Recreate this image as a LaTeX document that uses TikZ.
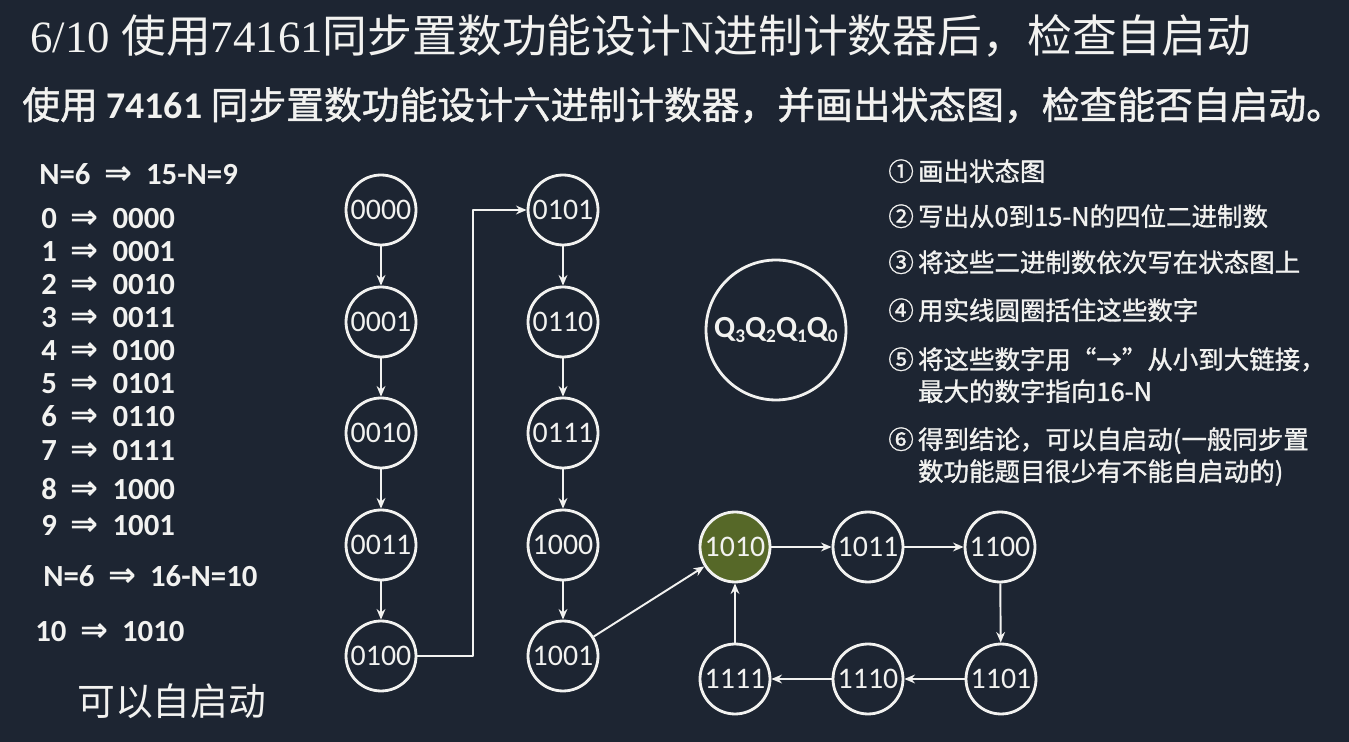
\documentclass[tikz,border=0pt]{standalone}
\usepackage{fontspec}
\setmainfont{Carlito}
\newfontfamily\cjk{Noto Sans CJK SC}
\newfontfamily\cjkb[FakeBold=1.2]{Noto Sans CJK SC}
\newfontfamily\titlelatin{Liberation Serif}
\newfontfamily\symb{DejaVu Sans}
\usetikzlibrary{arrows.meta,positioning}
\definecolor{board}{RGB}{29,37,50}
\definecolor{chalk}{RGB}{242,242,240}
\definecolor{olive}{RGB}{86,104,40}
\newcommand\imp{\hspace{0.45em}{\symb\fontsize{19}{19}\selectfont ⇒}\hspace{0.45em}}
\newcommand\qsub[1]{Q\raisebox{-0.4ex}{\fontsize{11}{11}\selectfont #1}}
\tikzset{
  state/.style={circle, draw=chalk, line width=1.6pt, minimum size=1.4cm, inner sep=0pt,
    text=chalk, font=\fontsize{17}{17}\selectfont},
  start/.style={state, fill=olive},
  arr/.style={->, draw=chalk, line width=1.1pt},
  listline/.style={anchor=west, text=chalk, inner sep=0pt, font=\bfseries\fontsize{17.5}{17.5}\selectfont},
  stepline/.style={anchor=north west, text=chalk, inner sep=0pt, align=left,
    font=\cjkb\fontsize{14.5}{18.2}\selectfont}
}
\begin{document}
\begin{tikzpicture}[x=0.02cm, y=-0.02cm, >={Stealth[length=6pt,width=5pt]}, line join=round]
  \fill[board] (0,0) rectangle (1349,742);
  \useasboundingbox (0,0) rectangle (1349,742);

  % headings
  \node[anchor=west, text=chalk, inner sep=0pt, font=\fontsize{25.5}{25.5}\selectfont] (title) at (30,36)
    {{\titlelatin 6/10 }{\cjk 使用}{\titlelatin 74161}{\cjk 同步置数功能设计}{\titlelatin N}{\cjk 进制计数器后，检查自启动}};
  \node[anchor=west, text=chalk, inner sep=0pt, font=\fontsize{21.5}{21.5}\selectfont] (task) at (22,105)
    {{\cjkb 使用} {\bfseries 74161} {\cjkb 同步置数功能设计六进制计数器，并画出状态图，检查能否自启动。}};

  % left column
  \node[listline] (n15) at (39,174) {N=6\imp 15-N=9};
  \foreach \n/\b/\y in {0/0000/219, 1/0001/252, 2/0010/285, 3/0011/318, 4/0100/351,
                        5/0101/384, 6/0110/416, 7/0111/451, 8/1000/489, 9/1001/526}
    \node[listline] (d\n) at (41,\y) {\n\imp\b};
  \node[listline] (n16) at (43,576) {N=6\imp 16-N=10};
  \node[listline] (d10) at (35,632) {10\imp 1010};
  \node[anchor=west, text=chalk, inner sep=0pt, font=\cjk\fontsize{21.5}{21.5}\selectfont] (ok) at (77,701) {可以自启动};

  % states
  \foreach \i/\b/\y in {0/0000/210, 1/0001/322, 2/0010/433, 3/0011/545, 4/0100/656}
    \node[state] (s\i) at (381,\y) {\b};
  \foreach \i/\b/\y in {5/0101/210, 6/0110/322, 7/0111/433, 8/1000/545, 9/1001/656}
    \node[state] (s\i) at (563,\y) {\b};
  \node[start] (s10) at (735,547) {1010};
  \node[state] (s11) at (868,547) {1011};
  \node[state] (s12) at (1000,547) {1100};
  \node[state] (s13) at (1001,679) {1101};
  \node[state] (s14) at (868,679) {1110};
  \node[state] (s15) at (735,679) {1111};

  \node[circle, draw=chalk, line width=1.6pt, minimum size=2.8cm, inner sep=0pt, text=chalk,
    font=\bfseries\fontsize{17.5}{17.5}\selectfont] (key) at (776,330) {\qsub{3}\qsub{2}\qsub{1}\qsub{0}};

  % transitions
  \foreach \a/\b in {0/1, 1/2, 2/3, 3/4, 5/6, 6/7, 7/8, 8/9, 9/10,
                     10/11, 11/12, 12/13, 13/14, 14/15, 15/10}
    \draw[arr] (s\a) -- (s\b);
  \draw[arr] (s4.east) -- ++(56,0) |- (s5.west);

  % steps
  \node[stepline] (st1) at (888,159) {①\,画出状态图};
  \node[stepline] (st2) at (888,204) {②\,写出从0到15-N的四位二进制数};
  \node[stepline] (st3) at (888,250) {③\,将这些二进制数依次写在状态图上};
  \node[stepline] (st4) at (888,298) {④\,用实线圆圈括住这些数字};
  \node[stepline] (st5) at (888,347) {⑤\,将这些数字用“→”从小到大链接，\\\hphantom{⑤\,}最大的数字指向16-N};
  \node[stepline] (st6) at (888,427) {⑥\,得到结论，可以自启动(一般同步置\\\hphantom{⑥\,}数功能题目很少有不能自启动的)};
\end{tikzpicture}
\end{document}
